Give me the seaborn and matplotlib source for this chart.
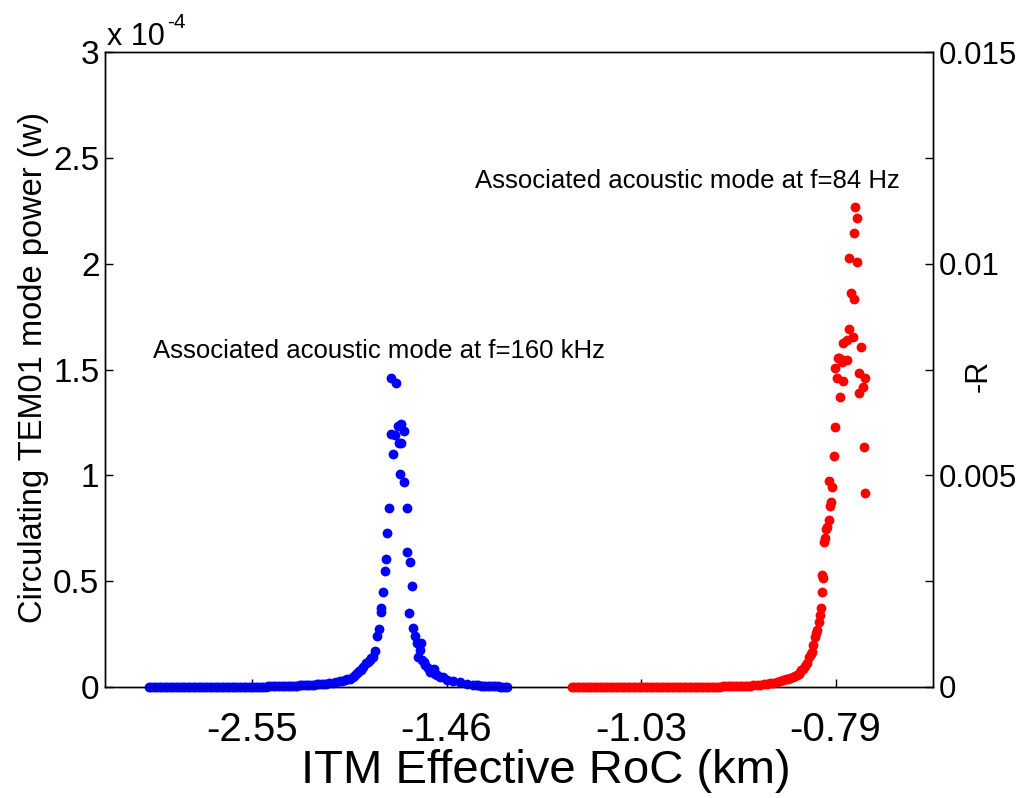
import matplotlib
matplotlib.use("Agg")
import matplotlib.pyplot as plt
import numpy as np
import pandas as pd
import seaborn as sns

# ---------------- data ----------------
# x positions are in "tick units": the four labelled ticks sit at 1, 2, 3, 4
tick_pos = [1, 2, 3, 4]
tick_labels = ["-2.55", "-1.46", "-1.03", "-0.79"]

# Blue series: circulating TEM01 mode power (units of 1e-4 W)
blue_x = [0.4700, 0.4825, 0.4950, 0.5075, 0.5200, 0.5325, 0.5450, 0.5575, 0.5700, 0.5825,
          0.5950, 0.6075, 0.6200, 0.6325, 0.6450, 0.6575, 0.6700, 0.6825, 0.6950, 0.7075,
          0.7200, 0.7325, 0.7450, 0.7575, 0.7700, 0.7825, 0.7950, 0.8075, 0.8200, 0.8325,
          0.8450, 0.8575, 0.8700, 0.8825, 0.8950, 0.9075, 0.9200, 0.9325, 0.9450, 0.9575,
          0.9700, 0.9825, 0.9950, 1.0075, 1.0200, 1.0325, 1.0450, 1.0575, 1.0700, 1.0825,
          1.0950, 1.1075, 1.1200, 1.1325, 1.1450, 1.1575, 1.1700, 1.1825, 1.1950, 1.2075,
          1.2200, 1.2325, 1.2450, 1.2575, 1.2700, 1.2825, 1.2950, 1.3075, 1.3200, 1.3325,
          1.3450, 1.3575, 1.3700, 1.3825, 1.3950,
          1.416, 1.430, 1.452, 1.465, 1.478, 1.490, 1.504, 1.519, 1.530, 1.540,
          1.550, 1.561, 1.571, 1.586, 1.596, 1.607, 1.612, 1.622, 1.632, 1.643,
          1.653, 1.663, 1.663, 1.674, 1.684, 1.689, 1.694, 1.704, 1.715, 1.715,
          1.725, 1.735, 1.740, 1.751, 1.756, 1.761, 1.766, 1.766, 1.781, 1.781,
          1.797, 1.797, 1.807, 1.812, 1.823, 1.828, 1.838, 1.848, 1.853, 1.864,
          1.869, 1.874, 1.884, 1.889, 1.905, 1.915, 1.925, 1.936, 1.941, 1.951,
          1.966, 1.982, 2.002, 2.033, 2.069, 2.105, 2.136,
          2.1500, 2.1625, 2.1750, 2.1875, 2.2000, 2.2125, 2.2250, 2.2375, 2.2500, 2.2625,
          2.2750, 2.2875, 2.3000, 2.3125]
blue_power = [0.0, 0.0, 0.0, 0.0, 0.0, 0.0, 0.0, 0.0, 0.0, 0.0,
              0.0, 0.0, 0.0, 0.0, 0.0, 0.0, 0.0, 0.0, 0.0, 0.0,
              0.0, 0.0, 0.0, 0.0, 0.0, 0.0, 0.0, 0.0, 0.0, 0.0,
              0.0, 0.0, 0.0, 0.0, 0.0, 0.0, 0.0, 0.0, 0.0, 0.0,
              0.0, 0.0, 0.0, 0.001, 0.001, 0.001, 0.002, 0.002, 0.002, 0.003,
              0.003, 0.003, 0.004, 0.004, 0.004, 0.005, 0.005, 0.005, 0.006, 0.006,
              0.007, 0.007, 0.008, 0.008, 0.009, 0.009, 0.010, 0.011, 0.011, 0.012,
              0.013, 0.014, 0.015, 0.016, 0.017,
              0.019, 0.022, 0.028, 0.030, 0.033, 0.036, 0.038, 0.047, 0.055, 0.066,
              0.075, 0.080, 0.094, 0.113, 0.120, 0.128, 0.135, 0.142, 0.170, 0.241,
              0.274, 0.354, 0.373, 0.449, 0.548, 0.605, 0.728, 0.846, 1.195, 1.460,
              1.101, 1.191, 1.436, 1.233, 1.153, 1.006, 1.243, 1.153, 1.209, 0.969,
              0.846, 0.638, 0.350, 0.591, 0.477, 0.279, 0.241, 0.208, 0.142, 0.175,
              0.208, 0.128, 0.118, 0.104, 0.090, 0.071, 0.080, 0.085, 0.061, 0.057,
              0.047, 0.047, 0.033, 0.028, 0.024, 0.012, 0.010,
              0.008, 0.008, 0.007, 0.007, 0.006, 0.005, 0.005, 0.004, 0.003, 0.003,
              0.002, 0.002, 0.001, 0.001]

# Red series: -R (right axis)
red_x = [2.6450, 2.6575, 2.6700, 2.6825, 2.6950, 2.7075, 2.7200, 2.7325, 2.7450, 2.7575,
         2.7700, 2.7825, 2.7950, 2.8075, 2.8200, 2.8325, 2.8450, 2.8575, 2.8700, 2.8825,
         2.8950, 2.9075, 2.9200, 2.9325, 2.9450, 2.9575, 2.9700, 2.9825, 2.9950, 3.0075,
         3.0200, 3.0325, 3.0450, 3.0575, 3.0700, 3.0825, 3.0950, 3.1075, 3.1200, 3.1325,
         3.1450, 3.1575, 3.1700, 3.1825, 3.1950, 3.2075, 3.2200, 3.2325, 3.2450, 3.2575,
         3.2700, 3.2825, 3.2950, 3.3075, 3.3200, 3.3325, 3.3450, 3.3575, 3.3700, 3.3825,
         3.3950, 3.4075, 3.4200, 3.4325, 3.4450, 3.4575, 3.4700, 3.4825, 3.4950, 3.5075,
         3.5200, 3.5325, 3.5450,
         3.560, 3.578, 3.596, 3.614, 3.632, 3.648, 3.663, 3.681, 3.699, 3.715,
         3.730, 3.743, 3.756, 3.768, 3.781, 3.792, 3.802, 3.810, 3.817, 3.825,
         3.833, 3.843, 3.853, 3.864, 3.874, 3.879, 3.884, 3.895, 3.900, 3.905,
         3.915, 3.920, 3.925, 3.931, 3.931, 3.936, 3.941, 3.946, 3.951, 3.956,
         3.967, 3.972, 3.977, 3.982, 3.967, 3.992, 3.997, 4.023, 4.008, 4.039,
         3.997, 4.018, 4.039, 4.059, 4.033, 4.013, 4.039, 4.059, 4.070, 4.090,
         4.131, 4.121, 4.152, 4.141, 4.121, 4.147, 4.152, 4.080, 4.095, 4.070,
         4.111, 4.095, 4.111, 4.100]
red_negR = [0.0, 0.0, 0.0, 0.0, 0.0, 0.0, 0.0, 0.0, 0.0, 0.0,
            0.0, 0.0, 0.0, 0.0, 0.0, 0.0, 0.0, 0.0, 0.0, 0.0,
            0.0, 0.0, 0.0, 0.0, 0.0, 0.0, 0.0, 0.0, 0.0, 0.0,
            0.0, 0.0, 0.0, 0.0, 0.0, 0.0, 0.0, 0.0, 0.0, 0.0,
            0.0, 0.0, 0.0, 0.0, 0.0, 0.0, 0.0, 0.0, 0.0, 0.0,
            0.00001, 0.00001, 0.00001, 0.00001, 0.00001, 0.00001, 0.00001, 0.00001, 0.00001, 0.00001,
            0.00001, 0.00001, 0.00002, 0.00002, 0.00002, 0.00002, 0.00002, 0.00002, 0.00002, 0.00002,
            0.00002, 0.00002, 0.00002,
            0.00002, 0.00004, 0.00005, 0.00005, 0.00006, 0.00008, 0.00009, 0.00010, 0.00012, 0.00014,
            0.00017, 0.00018, 0.00019, 0.00021, 0.00024, 0.00026, 0.00028, 0.00031, 0.00035, 0.00039,
            0.00043, 0.00050, 0.00057, 0.00071, 0.00078, 0.00083, 0.00099, 0.00118, 0.00128, 0.00135,
            0.00154, 0.00170, 0.00187, 0.00224, 0.00265, 0.00257, 0.00342, 0.00352, 0.00373, 0.00378,
            0.00394, 0.00428, 0.00437, 0.00472, 0.00487, 0.00546, 0.00614, 0.00685, 0.00730, 0.00723,
            0.00753, 0.00777, 0.00772, 0.00772, 0.00768, 0.00777, 0.00813, 0.00820, 0.00846, 0.00827,
            0.00803, 0.00742, 0.00730, 0.00709, 0.00694, 0.00567, 0.00458, 0.00931, 0.00916, 0.01013,
            0.01004, 0.01072, 0.01108, 0.01134]

left_ticks = [0, 0.5, 1, 1.5, 2, 2.5, 3]
left_tick_labels = ["0", "0.5", "1", "1.5", "2", "2.5", "3"]
right_ticks = [0, 0.0025, 0.005, 0.0075, 0.01, 0.0125, 0.015]
right_tick_labels = ["0", "", "0.005", "", "0.01", "", "0.015"]

# ---------------- style ----------------
sns.set_style("white")
plt.rcParams["font.family"] = ["Liberation Sans", "DejaVu Sans"]
for key in ("text.color", "axes.labelcolor", "xtick.color", "ytick.color",
            "axes.edgecolor"):
    plt.rcParams[key] = "black"

blue_df = pd.DataFrame({"x": blue_x, "power": blue_power})
red_df = pd.DataFrame({"x": red_x, "negR": red_negR})

fig = plt.figure(figsize=(10.23, 7.98), dpi=100)
ax = fig.add_axes([0.1026, 0.1391, 0.8094, 0.7957])
ax2 = ax.twinx()

sns.scatterplot(data=blue_df, x="x", y="power", color="#0000ff", s=50,
                linewidth=0, ax=ax, clip_on=False, zorder=3)
sns.scatterplot(data=red_df, x="x", y="negR", color="#ff0000", s=50,
                linewidth=0, ax=ax2, clip_on=False, zorder=3)

ax.set_xlim(0.244, 4.501)
ax.set_ylim(0, 3)
ax2.set_ylim(0, 0.015)

ax.set_xticks(tick_pos)
ax.set_xticklabels(tick_labels)
ax.set_yticks(left_ticks)
ax.set_yticklabels(left_tick_labels)
ax2.set_yticks(right_ticks)
ax2.set_yticklabels(right_tick_labels)

for a in (ax, ax2):
    for sp in a.spines.values():
        sp.set_visible(True)
        sp.set_color("black")
        sp.set_linewidth(1.0)

ax.tick_params(axis="x", direction="in", length=6, width=1.0, bottom=True,
               top=False, pad=17, labelsize=29, colors="black")
ax.tick_params(axis="y", direction="in", length=6, width=1.0, left=True,
               right=False, pad=4, labelsize=24, colors="black")
ax2.tick_params(axis="y", direction="in", length=6, width=1.0, right=True,
                left=False, pad=4, labelsize=22.5, colors="black")

ax.set_xlabel("ITM Effective RoC (km)", fontsize=34, va="center")
ax.xaxis.set_label_coords(0.5326, -0.133)
ax.set_ylabel("Circulating TEM01 mode power (w)", fontsize=23.5,
              va="center", ha="center")
ax.yaxis.set_label_coords(-0.086, 0.503)
ax2.set_ylabel("-R", fontsize=22, va="center", ha="center", rotation=90)
ax2.yaxis.set_label_coords(1.0556, 0.490)

base = ax.text(0.003, 1.011, "x 10", transform=ax.transAxes,
               fontsize=22, ha="left", va="baseline")
ax.annotate("-4", xy=(1.0, 0.80), xycoords=base, xytext=(1, 0),
            textcoords="offset points", fontsize=15, ha="left", va="baseline")

ax.text(0.491, 1.554, "Associated acoustic mode at f=160 kHz",
        fontsize=18.5, ha="left", va="baseline")
ax.text(2.147, 2.357, "Associated acoustic mode at f=84 Hz",
        fontsize=18.5, ha="left", va="baseline")

fig.savefig("out.png", dpi=100)
